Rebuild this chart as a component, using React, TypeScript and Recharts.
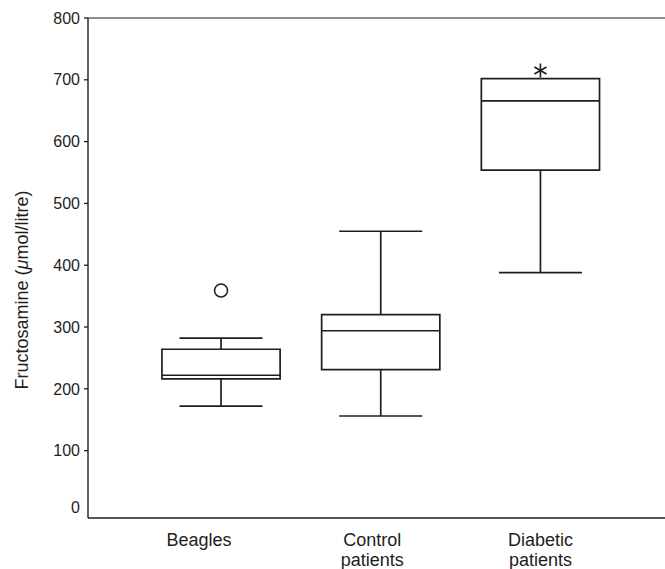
import React from 'react';
import { ComposedChart, XAxis, YAxis, ReferenceArea, ReferenceLine, Scatter } from 'recharts';

// ---- data ----
const categoryLines: string[][] = [['Beagles'], ['Control', 'patients'], ['Diabetic', 'patients']];
const groupPositions = [1, 2, 3];
const whiskerLow = [172, 156, 388];
const quartile1 = [216, 231, 554];
const medians = [222, 294, 666];
const quartile3 = [264, 320, 702];
const whiskerHigh = [282, 455, 702];
const outlierGroups = [1, 3];
const outlierValues = [359, 715];
const outlierMarkers = ['circle', 'asterisk'];
const yTicks = [0, 100, 200, 300, 400, 500, 600, 700, 800];
const yLabelText = ['Fructosamine (', 'μ', 'mol/litre)'];

// ---- style ----
const INK = '#1e1e1e';
const FONT = '"Liberation Sans", Arial, Helvetica, sans-serif';
const BOX_HALF = 0.37;
const CAP_HALF = 0.26;
const labelDx = [-22, -8.5, 0];

const outlierData = outlierGroups.map((g, i) => ({ x: g, y: outlierValues[i], marker: outlierMarkers[i] }));

const XTick = (props: any) => {
  const { x, y, payload } = props;
  const idx = groupPositions.indexOf(payload.value);
  if (idx < 0) return null;
  const lines = categoryLines[idx];
  return (
    <text x={x + labelDx[idx]} y={y} textAnchor="middle" fontFamily={FONT} fontSize={18} fill={INK}>
      {lines.map((l, i) => (
        <tspan key={i} x={x + labelDx[idx]} y={y + 28 + i * 20}>{l}</tspan>
      ))}
    </text>
  );
};

const YTick = (props: any) => {
  const { x, y, payload } = props;
  const v = payload.value;
  return (
    <g>
      {v !== 0 && <line x1={x + 4} x2={x + 8} y1={y} y2={y} stroke={INK} strokeWidth={1.3} />}
      <text x={x} y={y + (v === 0 ? -5 : 0)} dy="0.355em" textAnchor="end" fontFamily={FONT} fontSize={16} fill={INK}>
        {v}
      </text>
    </g>
  );
};

const YLabel = (props: any) => {
  const vb = props.viewBox || { x: 0, y: 18, width: 88, height: 500 };
  const cx = vb.x + 28;
  const cy = vb.y + vb.height / 2 + 22;
  return (
    <text x={cx} y={cy} transform={`rotate(-90, ${cx}, ${cy})`} textAnchor="middle" fontFamily={FONT} fontSize={18} fill={INK}>
      {yLabelText[0]}
      <tspan fontStyle="italic">{yLabelText[1]}</tspan>
      {yLabelText[2]}
    </text>
  );
};

const OutlierShape = (props: any) => {
  const { cx, cy, payload } = props;
  if (cx == null || cy == null) return null;
  if (payload.marker === 'circle') {
    return <circle cx={cx} cy={cy} r={6.5} fill="none" stroke={INK} strokeWidth={1.6} />;
  }
  const r = 7;
  const arms = [90, 30, 150];
  return (
    <g>
      {arms.map((a) => {
        const rad = (a * Math.PI) / 180;
        return (
          <line key={a} x1={cx - r * Math.cos(rad)} y1={cy - r * Math.sin(rad)} x2={cx + r * Math.cos(rad)} y2={cy + r * Math.sin(rad)} stroke={INK} strokeWidth={1.6} />
        );
      })}
    </g>
  );
};

export default function App() {
  const lineProps = { stroke: INK, strokeWidth: 1.7, ifOverflow: 'visible' as const };
  return (
    <div style={{ position: 'absolute', left: 0, top: 0 }}>
      <ComposedChart width={665} height={569} margin={{ top: 18, right: 0, bottom: 0, left: 0 }}>
        <XAxis
          type="number"
          dataKey="x"
          domain={[0.167, 3.78]}
          ticks={groupPositions}
          interval={0}
          allowDataOverflow
          height={51}
          tickLine={false}
          tickSize={0}
          tickMargin={0}
          axisLine={{ stroke: INK, strokeWidth: 1.4 }}
          tick={<XTick />}
        />
        <YAxis
          type="number"
          dataKey="y"
          domain={[-9, 800]}
          ticks={yTicks}
          interval={0}
          allowDataOverflow
          width={88}
          tickSize={4}
          tickMargin={4}
          tickLine={false}
          axisLine={{ stroke: INK, strokeWidth: 1.4 }}
          tick={<YTick />}
          label={YLabel}
        />
        <ReferenceLine y={800} stroke={INK} strokeWidth={1.2} ifOverflow="visible" />
        {groupPositions.map((g, i) => (
          <ReferenceArea
            key={`box-${g}`}
            x1={g - BOX_HALF}
            x2={g + BOX_HALF}
            y1={quartile1[i]}
            y2={quartile3[i]}
            fill="#ffffff"
            fillOpacity={1}
            stroke={INK}
            strokeWidth={1.7}
            ifOverflow="visible"
          />
        ))}
        {groupPositions.map((g, i) => (
          <ReferenceLine key={`med-${g}`} segment={[{ x: g - BOX_HALF, y: medians[i] }, { x: g + BOX_HALF, y: medians[i] }]} {...lineProps} />
        ))}
        {groupPositions.map((g, i) => (
          <ReferenceLine key={`wl-${g}`} segment={[{ x: g, y: whiskerLow[i] }, { x: g, y: quartile1[i] }]} {...lineProps} />
        ))}
        {groupPositions.map((g, i) => (
          <ReferenceLine key={`wh-${g}`} segment={[{ x: g, y: quartile3[i] }, { x: g, y: whiskerHigh[i] }]} {...lineProps} />
        ))}
        {groupPositions.map((g, i) => (
          <ReferenceLine key={`cl-${g}`} segment={[{ x: g - CAP_HALF, y: whiskerLow[i] }, { x: g + CAP_HALF, y: whiskerLow[i] }]} {...lineProps} />
        ))}
        {groupPositions.map((g, i) =>
          whiskerHigh[i] > quartile3[i] ? (
            <ReferenceLine key={`ch-${g}`} segment={[{ x: g - CAP_HALF, y: whiskerHigh[i] }, { x: g + CAP_HALF, y: whiskerHigh[i] }]} {...lineProps} />
          ) : null
        )}
        <Scatter data={outlierData} dataKey="y" shape={<OutlierShape />} isAnimationActive={false} />
      </ComposedChart>
    </div>
  );
}
